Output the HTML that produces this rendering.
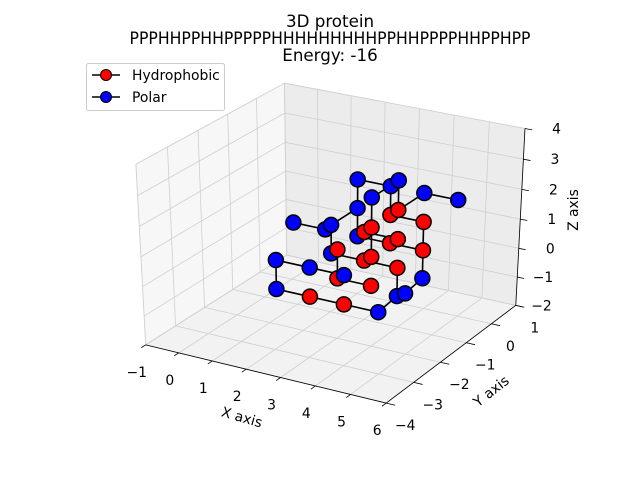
<!DOCTYPE html>
<html><head><meta charset="utf-8"><style>
body{margin:0;background:#fff}
svg{display:block;font-family:"DejaVu Sans","Liberation Sans",sans-serif}
</style></head><body>
<svg id="chart" width="640" height="480" viewBox="0 0 640 480" xmlns="http://www.w3.org/2000/svg">
<rect width="640" height="480" fill="#fff"/>
<g id="panes"></g>
<g id="grid"></g>
<g id="axes"></g>
<g id="bonds" transform="translate(7,-5)"></g>
<g id="marks" transform="translate(7,-5)"></g>
<g font-size="16.7" text-anchor="middle" fill="#000">
<text x="330" y="27">3D protein</text>
<text x="330" y="44" textLength="401" lengthAdjust="spacingAndGlyphs">PPPHHPPHHPPPPPHHHHHHHHHPPHHPPPPHHPPHPP</text>
<text x="330" y="61">Energy: -16</text>
</g>
<g>
<rect x="86.5" y="63.5" width="138" height="47" rx="2" fill="#fff" fill-opacity="0.8" stroke="#ccc"/>
<g>
<line x1="92" y1="75" x2="120" y2="75" stroke="#000" stroke-width="1.5"/>
<circle cx="106" cy="75" r="5.5" fill="#ff0000" stroke="#000" stroke-width="1"/>
<text x="132" y="80" font-size="13.9">Hydrophobic</text>
</g>
<g>
<line x1="92" y1="97" x2="120" y2="97" stroke="#000" stroke-width="1.5"/>
<circle cx="106" cy="97" r="5.5" fill="#0000ff" stroke="#000" stroke-width="1"/>
<text x="132" y="102" font-size="13.9">Polar</text>
</g>
</g>
</svg>
<script>
const xs = [1,3,2,3,3,4,-1,0,1,1,1,1,1,2,3,1,3,3,4,4, 2,3,3,2,3,2,2,3,3,2,3,2,3,3,2,3];
const ys = [1,-1,1,0,1,1,1,1,0,1,1,0,-2,-2,-2,-2,1,0,-1,-2, 1,0,1,0,-1,-1,1,0,1,0,-1,-1,0,-1,-2,-2];
const zs = [1,2,1,2,1,1,-1,-1,0,0,-1,-1,0,0,0,-1,-2,-2,-1,-1, 0,1,0,0,1,0,-1,0,-1,-1,0,-1,-1,-1,-1,-1];
const kinds = ['P','P','P','P','P','P','P','P','P','P','P','P','P','P','P','P','P','P','P','P',
               'H','H','H','H','H','H','H','H','H','H','H','H','H','H','H','H'];
const bondFrom = [5,4,0,0,9,6,8,1,24,2,3,20,22,28,26,23,10,29,32,16,19,35,34,15,15,12,13,25,31,1,11,9];
const bondTo   = [4,21,2,9,8,7,11,24,30,20,21,22,28,16,28,27,26,32,17,18,17,19,35,34,12,13,14,31,33,3,29,10];
const xTicks = [-1,0,1,2,3,4,5,6];
const yTicks = [-4,-3,-2,-1,0,1];
const zTicks = [-2,-1,0,1,2,3,4];
const xLim = [-1,6], yLim = [-4,1], zLim = [-2,4];

const NS = 'http://www.w3.org/2000/svg';
const box = [1,1,1];
const R = [box[0]/2,box[1]/2,box[2]/2];
const el = 30*Math.PI/180, az = -60*Math.PI/180;
const w = [Math.cos(el)*Math.cos(az), Math.cos(el)*Math.sin(az), Math.sin(el)];
const eye = [R[0]+10*w[0], R[1]+10*w[1], R[2]+10*w[2]];
const u = [0.75/0.8660254, 0.4330127/0.8660254, 0];
const v = [w[1]*u[2]-w[2]*u[1], w[2]*u[0]-w[0]*u[2], w[0]*u[1]-w[1]*u[0]];
function raw(x,y,z){
  const p=[(x-xLim[0])/(xLim[1]-xLim[0])*box[0],(y-yLim[0])/(yLim[1]-yLim[0])*box[1],(z-zLim[0])/(zLim[1]-zLim[0])*box[2]];
  const q=[p[0]-eye[0],p[1]-eye[1],p[2]-eye[2]];
  const xv=u[0]*q[0]+u[1]*q[1]+u[2]*q[2], yv=v[0]*q[0]+v[1]*q[1]+v[2]*q[2], zv=w[0]*q[0]+w[1]*q[1]+w[2]*q[2];
  return [xv/-zv, yv/-zv, zv];
}
const X0=xLim[0],X1=xLim[1],Y0=yLim[0],Y1=yLim[1],Z0=zLim[0],Z1=zLim[1];
const fitPts=[[X0,Y0,Z0,146.7,345],[X1,Y0,Z0,386.7,403],[X1,Y1,Z0,516.7,306.7],[X0,Y0,Z1,136.7,165],[X0,Y1,Z1,284,83.3],[X1,Y1,Z1,525,128.3],[X0,Y1,Z0,284,253]];
function lsq(a,b){const n=a.length;let ma=0,mb=0;for(let i=0;i<n;i++){ma+=a[i];mb+=b[i];}ma/=n;mb/=n;let c=0,s=0;for(let i=0;i<n;i++){c+=(a[i]-ma)*(b[i]-mb);s+=(a[i]-ma)**2;}const m=c/s;return [m,mb-m*ma];}
const fr=fitPts.map(f=>raw(f[0],f[1],f[2]));
const fx=lsq(fr.map(r=>r[0]),fitPts.map(f=>f[3]));
const fy=lsq(fr.map(r=>r[1]),fitPts.map(f=>f[4]));
function P(x,y,z){const r=raw(x,y,z);return [fx[0]*r[0]+fx[1], fy[0]*r[1]+fy[1], r[2]];}

function mk(tag,attrs,parent){const e=document.createElementNS(NS,tag);for(const a in attrs)e.setAttribute(a,attrs[a]);parent.appendChild(e);return e;}
function poly(pts){return pts.map(p=>p[0].toFixed(1)+','+p[1].toFixed(1)).join(' ');}

const panes=document.getElementById('panes');
let e;
e=mk('polygon',{points:poly([P(X0,Y0,Z0),P(X1,Y0,Z0),P(X1,Y1,Z0),P(X0,Y1,Z0)]),fill:'#f2f2f2',stroke:'#ebebeb'},panes);


e=mk('polygon',{points:poly([P(X0,Y0,Z0),P(X0,Y1,Z0),P(X0,Y1,Z1),P(X0,Y0,Z1)]),fill:'#f7f7f7',stroke:'#ebebeb'},panes);


e=mk('polygon',{points:poly([P(X0,Y1,Z0),P(X1,Y1,Z0),P(X1,Y1,Z1),P(X0,Y1,Z1)]),fill:'#ececec',stroke:'#e6e6e6'},panes);



const grid=document.getElementById('grid');
function gl(a,b,name){const l=mk('line',{x1:a[0],y1:a[1],x2:b[0],y2:b[1],stroke:'#cfcfcf','stroke-width':0.8},grid);

}
xTicks.forEach(t=>{gl(P(t,Y0,Z0),P(t,Y1,Z0),'x-grid-floor');gl(P(t,Y1,Z0),P(t,Y1,Z1),'x-grid-back');});
yTicks.forEach(t=>{gl(P(X0,t,Z0),P(X1,t,Z0),'y-grid-floor');gl(P(X0,t,Z0),P(X0,t,Z1),'y-grid-left');});
zTicks.forEach(t=>{gl(P(X0,Y0,t),P(X0,Y1,t),'z-grid-left');gl(P(X0,Y1,t),P(X1,Y1,t),'z-grid-back');});

const axes=document.getElementById('axes');
function al(a,b,name){const l=mk('line',{x1:a[0],y1:a[1],x2:b[0],y2:b[1],stroke:'#000','stroke-width':0.8},axes);

}
function tx(x,y,s,name,anchor,extra){const t=mk('text',Object.assign({x:x,y:y,'font-size':13.9,'text-anchor':anchor||'middle'},extra||{}),axes);t.textContent=s;

return t;}
al(P(X0,Y0,Z0),P(X1,Y0,Z0),'x-axis-line');
al(P(X1,Y0,Z0),P(X1,Y1,Z0),'y-axis-line');
al(P(X1,Y1,Z0),P(X1,Y1,Z1),'z-axis-line');
xTicks.forEach(t=>{const a=P(t,Y0,Z0),b=P(t,Y0-0.15,Z0);al(a,b,'x-tick');tx(a[0]-9,a[1]+32,String(t).replace('-','\u2212'),'x-tick-label');});
yTicks.forEach(t=>{const a=P(X1,t,Z0),b=P(X1+0.25,t,Z0);al(a,b,'y-tick');tx(a[0]+19,a[1]+27,String(t).replace('-','\u2212'),'y-tick-label');});
zTicks.forEach(t=>{const a=P(X1,Y1,t),b=P(X1+0.2,Y1,t);al(a,b,'z-tick');tx(a[0]+36,a[1]+5,String(t).replace('-','\u2212'),'z-tick-label','end');});
tx(242,422,'X axis','x-axis-title','middle',{transform:'rotate(16 242 417)'});
tx(491,396,'Y axis','y-axis-title','middle',{transform:'rotate(-38 491 391)'});
tx(583,215,'Z axis','z-axis-title','middle',{transform:'rotate(-90 578 215)'});

const bonds=document.getElementById('bonds');
for(let i=0;i<bondFrom.length;i++){
  const a=P(xs[bondFrom[i]],ys[bondFrom[i]],zs[bondFrom[i]]),b=P(xs[bondTo[i]],ys[bondTo[i]],zs[bondTo[i]]);
  const l=mk('line',{x1:a[0],y1:a[1],x2:b[0],y2:b[1],stroke:'#000','stroke-width':1.6},bonds);
  
  
}
const marks=document.getElementById('marks');
const order=xs.map((_,i)=>i).sort((i,j)=>P(xs[i],ys[i],zs[i])[2]-P(xs[j],ys[j],zs[j])[2]);
order.forEach(i=>{
  const p=P(xs[i],ys[i],zs[i]);
  const c=mk('circle',{cx:p[0],cy:p[1],r:7.5,fill:kinds[i]==='H'?'#ff0000':'#0000ff',stroke:'#000','stroke-width':1.5},marks);
  
  
});
</script>
</body></html>
